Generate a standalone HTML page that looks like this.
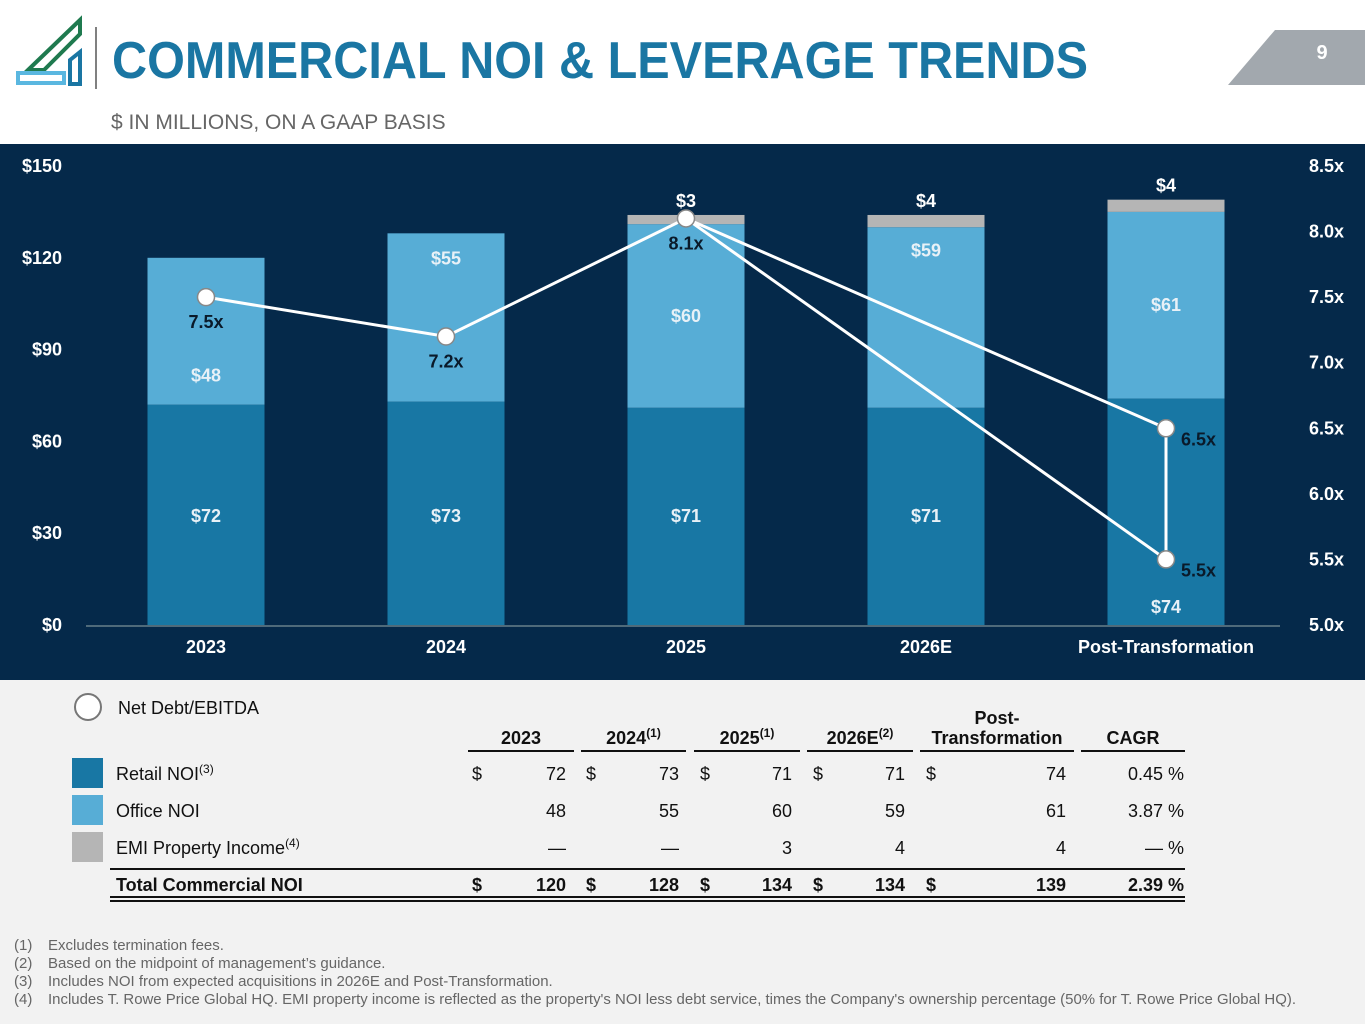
<!DOCTYPE html>
<html><head><meta charset="utf-8"><style>
html,body{margin:0;padding:0;background:#fff;}
svg{display:block;font-family:"Liberation Sans",sans-serif;}
</style></head><body>
<svg id="s" width="1365" height="1024" viewBox="0 0 1365 1024">
<rect x="0" y="0" width="1365" height="1024" fill="#ffffff"/>
<g>
<polygon points="28,70 80,20 80,34 44,70" fill="none" stroke="#1f7a4f" stroke-width="4"/>
<rect x="18" y="73" width="46" height="10" fill="none" stroke="#5ab7e0" stroke-width="4"/>
<polygon points="70,60 80,52 80,84 70,84" fill="none" stroke="#1a76a3" stroke-width="4"/>
<line x1="96" y1="27" x2="96" y2="89" stroke="#555" stroke-width="1.5"/>
</g>
<text x="112" y="78" font-size="52" font-weight="bold" fill="#1a76a3" textLength="976" lengthAdjust="spacingAndGlyphs">COMMERCIAL NOI &amp; LEVERAGE TRENDS</text>
<text x="111" y="129" font-size="21" fill="#666">$ IN MILLIONS, ON A GAAP BASIS</text>
<polygon points="1228,85 1275,30 1365,30 1365,85" fill="#a2a8ae"/>
<text x="1322" y="59" font-size="20" font-weight="bold" fill="#fff" text-anchor="middle">9</text>
<rect x="0" y="144" width="1365" height="536" fill="#05294a"/>
<rect x="0" y="680" width="1365" height="344" fill="#f2f2f2"/>
<g id="chart"></g>
<g id="table"></g>
<g font-size="15" fill="#666">
<text x="14" y="950">(1)</text><text x="48" y="950">Excludes termination fees.</text>
<text x="14" y="968">(2)</text><text x="48" y="968">Based on the midpoint of management’s guidance.</text>
<text x="14" y="986">(3)</text><text x="48" y="986">Includes NOI from expected acquisitions in 2026E and Post-Transformation.</text>
<text x="14" y="1004">(4)</text><text x="48" y="1004" textLength="1248" lengthAdjust="spacingAndGlyphs">Includes T. Rowe Price Global HQ. EMI property income is reflected as the property's NOI less debt service, times the Company's ownership percentage (50% for T. Rowe Price Global HQ).</text>
</g>
</svg>
<script>
const categories=["2023","2024","2025","2026E","Post-Transformation"];
const retail=[72,73,71,71,74];
const office=[48,55,60,59,61];
const emi=[0,0,3,4,4];
const leverage=[7.5,7.2,8.1,null,6.5];
const leverageAlt=5.5;
const leftTicks=[0,30,60,90,120,150];
const rightTicks=[5.0,5.5,6.0,6.5,7.0,7.5,8.0,8.5];
const officeLabelAt=[0.2,0.85,0.5,0.87,0.5];

const NS="http://www.w3.org/2000/svg";
const y0=625,y1=166;
const yL=v=>y0-(v/150)*(y0-y1);
const yR=v=>y0-((v-5)/3.5)*(y0-y1);
const xC=i=>206+i*240;
const bw=117;
function mk(p,tag,at,txt){const e=document.createElementNS(NS,tag);for(const k in at)e.setAttribute(k,at[k]);if(txt!=null)e.textContent=txt;p.appendChild(e);return e;}
const ch=document.getElementById('chart');
leftTicks.forEach(t=>{const e=mk(ch,'text',{x:62,y:yL(t)+6,'font-size':18,'font-weight':'bold',fill:'#fff','text-anchor':'end'},'$'+t);

});
rightTicks.forEach(t=>{const e=mk(ch,'text',{x:1344,y:yR(t)+6,'font-size':18,'font-weight':'bold',fill:'#fff','text-anchor':'end'},t.toFixed(1)+'x');

});
mk(ch,'line',{x1:86,y1:y0+1,x2:1280,y2:y0+1,stroke:'#9aa',"stroke-width":1});
categories.forEach((c,i)=>{
 const x=xC(i)-bw/2;
 const r=mk(ch,'rect',{x:x,y:yL(retail[i]),width:bw,height:y0-yL(retail[i]),fill:'#1877a4'});
 
 
 const top=retail[i]+office[i];
 const o=mk(ch,'rect',{x:x,y:yL(top),width:bw,height:yL(retail[i])-yL(top),fill:'#57add6'});
 
 
 if(emi[i]>0){const g=mk(ch,'rect',{x:x,y:yL(top+emi[i]),width:bw,height:yL(top)-yL(top+emi[i]),fill:'#b5b5b5'});
 
 
 const gl=mk(ch,'text',{x:xC(i),y:yL(top+emi[i])-8,'font-size':18,'font-weight':'bold',fill:'#fff','text-anchor':'middle'},'$'+emi[i]);
 
 }
 const rl=mk(ch,'text',{x:xC(i),y:(i==4?613:522),'font-size':18,'font-weight':'bold',fill:'#e8f1f7','text-anchor':'middle'},'$'+retail[i]);
 
 
 const oy=yL(retail[i])-(yL(retail[i])-yL(top))*officeLabelAt[i]+6;
 const ol=mk(ch,'text',{x:xC(i),y:oy,'font-size':18,'font-weight':'bold',fill:'#e8f1f7','text-anchor':'middle'},'$'+office[i]);
 
 
 const cl=mk(ch,'text',{x:xC(i),y:653,'font-size':18,'font-weight':'bold',fill:'#fff','text-anchor':'middle'},c);
 
 
});
const pts=[[0,leverage[0]],[1,leverage[1]],[2,leverage[2]]];
let d='M'+pts.map(p=>xC(p[0])+','+yR(p[1])).join(' L');
const l1=mk(ch,'path',{d:d,fill:'none',stroke:'#fff','stroke-width':3});


const l2=mk(ch,'path',{d:'M'+xC(2)+','+yR(leverage[2])+' L'+xC(4)+','+yR(leverage[4])+' L'+xC(4)+','+yR(leverageAlt)+' L'+xC(2)+','+yR(leverage[2]),fill:'none',stroke:'#fff','stroke-width':3});


const allPts=[[0,leverage[0],'b'],[1,leverage[1],'b'],[2,leverage[2],'b'],[4,leverage[4],'r'],[4,leverageAlt,'r']];
allPts.forEach(p=>{
 const c=mk(ch,'circle',{cx:xC(p[0]),cy:yR(p[1]),r:8.5,fill:'#fff',stroke:'#888','stroke-width':1.5});
 
 
 const t=p[2]=='b'?mk(ch,'text',{x:xC(p[0]),y:yR(p[1])+31,'font-size':18,'font-weight':'bold',fill:'#0a1a2a','text-anchor':'middle'},p[1].toFixed(1)+'x'):mk(ch,'text',{x:xC(p[0])+15,y:yR(p[1])+17,'font-size':18,'font-weight':'bold',fill:'#0a1a2a'},p[1].toFixed(1)+'x');
 
 
});
const tb=document.getElementById('table');
const tRetail=["72","73","71","71","74"],tOffice=["48","55","60","59","61"],tEmi=["—","—","3","4","4"],tTotal=["120","128","134","134","139"];
const cagr=["0.45 %","3.87 %","— %","2.39 %"];
const colL=[468,581,694,807,920],colR=[574,686,800,913,1074],valR=[566,679,792,905,1066],dolX=[472,586,700,813,926];
const heads=[["2023",""],["2024","(1)"],["2025","(1)"],["2026E","(2)"]];
function T(at,txt,name){const e=mk(tb,'text',Object.assign({'font-size':18,fill:'#111'},at),txt);return e;}
const lc=mk(tb,'circle',{cx:88,cy:707,r:13,fill:'#fff',stroke:'#777','stroke-width':2});


T({x:118,y:714},'Net Debt/EBITDA','legend-net-debt');
heads.forEach((h,i)=>{const e=T({x:(colL[i]+colR[i])/2,y:744,'font-weight':'bold','text-anchor':'middle'},h[0],'column-header');
 if(h[1]){const s=document.createElementNS(NS,'tspan');s.setAttribute('font-size',12);s.setAttribute('dy',-7);s.textContent=h[1];e.appendChild(s);}});
T({x:997,y:724,'font-weight':'bold','text-anchor':'middle'},'Post-','column-header');
T({x:997,y:744,'font-weight':'bold','text-anchor':'middle'},'Transformation','column-header');
T({x:1133,y:744,'font-weight':'bold','text-anchor':'middle'},'CAGR','column-header');
colL.concat([1081]).forEach((x,i)=>{const r=[...colR,1185][i];mk(tb,'line',{x1:x,y1:751,x2:r,y2:751,stroke:'#111','stroke-width':2});});
const rows=[["Retail NOI","(3)",tRetail,cagr[0],'#1877a4',true],["Office NOI","",tOffice,cagr[1],'#57add6',false],["EMI Property Income","(4)",tEmi,cagr[2],'#b5b5b5',false]];
rows.forEach((r,k)=>{const y=780+k*37;
 const sq=mk(tb,'rect',{x:72,y:y-22,width:31,height:30,fill:r[4]});
 
 
 const e=T({x:116,y:y},r[0],'row-label');
 if(r[1]){const s=document.createElementNS(NS,'tspan');s.setAttribute('font-size',12);s.setAttribute('dy',-7);s.textContent=r[1];e.appendChild(s);}
 r[2].forEach((v,i)=>{if(r[5])T({x:dolX[i],y:y},'$','dollar-sign');T({x:valR[i],y:y,'text-anchor':'end'},v,'table-value');});
 T({x:1184,y:y,'text-anchor':'end'},r[3],'cagr-value');
});
mk(tb,'line',{x1:110,y1:869,x2:1185,y2:869,stroke:'#111','stroke-width':2});
T({x:116,y:891,'font-weight':'bold'},'Total Commercial NOI','row-label');
tTotal.forEach((v,i)=>{T({x:dolX[i],y:891,'font-weight':'bold'},'$','dollar-sign');T({x:valR[i],y:891,'font-weight':'bold','text-anchor':'end'},v,'table-value');});
T({x:1184,y:891,'font-weight':'bold','text-anchor':'end'},cagr[3],'cagr-value');
mk(tb,'line',{x1:110,y1:897,x2:1185,y2:897,stroke:'#111','stroke-width':2});
mk(tb,'line',{x1:110,y1:901,x2:1185,y2:901,stroke:'#111','stroke-width':2});
</script>
</body></html>
